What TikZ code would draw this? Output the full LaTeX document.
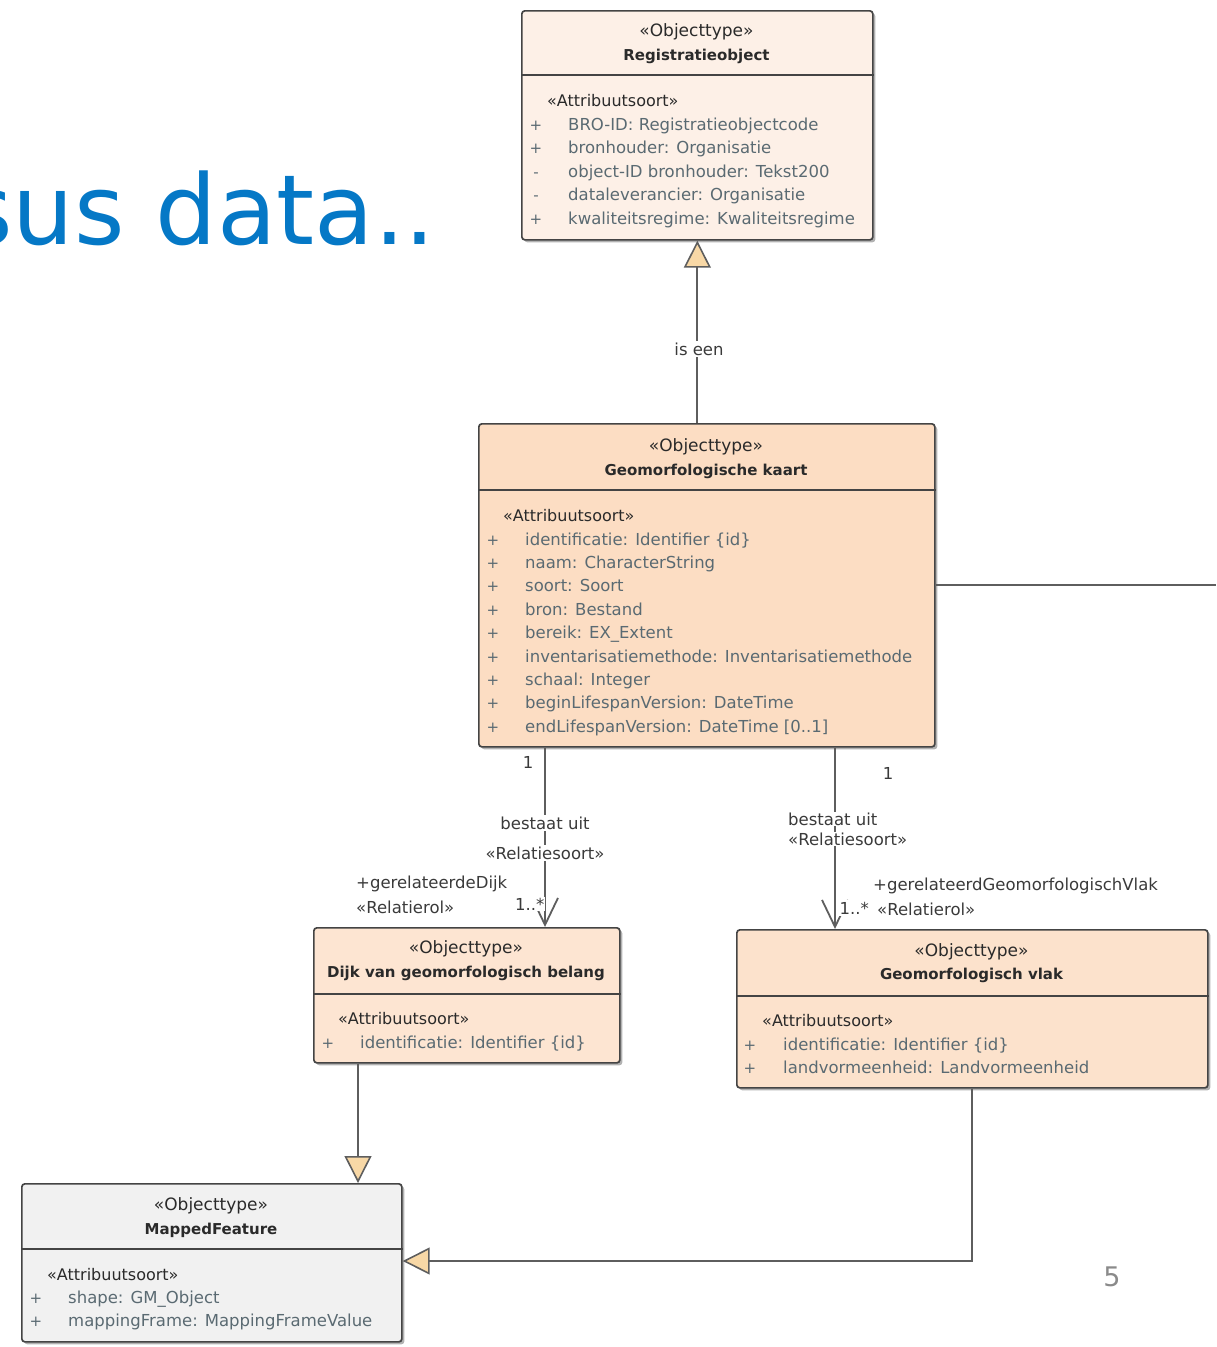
\documentclass[tikz,border=0pt]{standalone}
\usepackage{fontspec}
\setmainfont{DejaVu Sans}
\usetikzlibrary{arrows.meta,shadows,calc}
\definecolor{titleblue}{HTML}{0578C6}
\definecolor{boxline}{HTML}{444444}
\definecolor{conncol}{HTML}{5E5E5E}
\definecolor{attrcol}{HTML}{5A6A72}
\definecolor{headcol}{HTML}{2A2A2A}
\definecolor{lblcol}{HTML}{3A3A3A}
\definecolor{genfill}{HTML}{F8D8A6}
\definecolor{regfill}{HTML}{FDF0E7}
\definecolor{kaartfill}{HTML}{FCDDC3}
\definecolor{dijkfill}{HTML}{FDE5D2}
\definecolor{vlakfill}{HTML}{FCE2CC}
\definecolor{mffill}{HTML}{F1F1F1}
\definecolor{pagegray}{HTML}{8A8A8A}
\tikzset{
 umlbox/.style={draw=boxline, line width=1.7pt, rounded corners=3pt, inner sep=0pt, anchor=north west,
   drop shadow={shadow xshift=2.5pt, shadow yshift=-2.5pt, opacity=0.3, fill=black}},
 divline/.style={draw=boxline, line width=1.7pt},
 stereo/.style={inner sep=0pt, anchor=base, text=headcol, font=\fontsize{17}{17}\selectfont},
 cname/.style={inner sep=0pt, anchor=base, text=headcol, font=\bfseries\fontsize{15}{15}\selectfont},
 attrhead/.style={inner sep=0pt, anchor=base west, text=headcol, font=\fontsize{16}{16}\selectfont},
 attrsign/.style={inner sep=0pt, anchor=base, text=attrcol, font=\fontsize{15}{16}\selectfont},
 attrtext/.style={inner sep=0pt, anchor=base west, text=attrcol, font=\fontsize{16.5}{17}\selectfont},
 conn/.style={draw=conncol, line width=2.2pt},
 gen/.style={-{Triangle[width=27pt,length=27pt,fill=genfill,line width=1.6pt]}},
 assoc/.style={-{Straight Barb[width=26pt,length=27pt,line width=1.8pt]}},
 lbl/.style={inner sep=2pt, text=lblcol, font=\fontsize{16.5}{16.5}\selectfont},
 lblw/.style={lbl, fill=white},
}
\newcommand\attrlist[6]{% prefix, signx, textx, baseline1, step, list
  \foreach \sg/\tx [count=\i] in {#6}{%
    \node[attrsign] (#1p\i) at (#2,{#4+#5*(\i-1)}) {\sg};
    \node[attrtext] (#1a\i) at (#3,{#4+#5*(\i-1)}) {\tx};
  }}
\begin{document}
\begin{tikzpicture}[x=1pt,y=-1pt]
\useasboundingbox (0,0) rectangle (1216,1347);
\clip (0,0) rectangle (1216,1347);

% title fragment (cut off at the left edge, as in the reference)
\node[inner sep=0pt, anchor=base east, text=titleblue, font=\fontsize{97}{97}\selectfont] (title) at (436,244) {sus data..};

% ---------- Registratieobject
\node[umlbox, fill=regfill, minimum width=351pt, minimum height=229pt] (reg) at (521,10) {};
\draw[divline] (reg.west |- 0,75) -- (reg.east |- 0,75);
\node[stereo] (reg-s) at (696.5,36) {«Objecttype»};
\node[cname] (reg-n) at (696.5,60) {Registratieobject};
\node[attrhead] (reg-h) at (547,106) {«Attribuutsoort»};
\attrlist{reg}{536}{568}{130}{23.5}{+/BRO-ID: Registratieobjectcode, +/bronhouder: Organisatie, -/object-ID bronhouder: Tekst200, -/dataleverancier: Organisatie, +/kwaliteitsregime: Kwaliteitsregime}

% ---------- Geomorfologische kaart
\node[umlbox, fill=kaartfill, minimum width=456pt, minimum height=323pt] (kaart) at (478,423) {};
\draw[divline] (kaart.west |- 0,490) -- (kaart.east |- 0,490);
\node[stereo] (kaart-s) at (706,451) {«Objecttype»};
\node[cname] (kaart-n) at (706,475) {Geomorfologische kaart};
\node[attrhead] (kaart-h) at (503,521) {«Attribuutsoort»};
\attrlist{kaart}{493}{525}{545}{23.4}{+/identificatie: Identifier \{id\}, +/naam: CharacterString, +/soort: Soort, +/bron: Bestand, +/bereik: EX\_Extent, +/inventarisatiemethode: Inventarisatiemethode, +/schaal: Integer, +/beginLifespanVersion: DateTime, +/endLifespanVersion: DateTime [0..1]}

% ---------- Dijk van geomorfologisch belang
\node[umlbox, fill=dijkfill, minimum width=306pt, minimum height=135pt] (dijk) at (313,927) {};
\draw[divline] (dijk.west |- 0,994) -- (dijk.east |- 0,994);
\node[stereo] (dijk-s) at (466,953) {«Objecttype»};
\node[cname] (dijk-n) at (466,977) {Dijk van geomorfologisch belang};
\node[attrhead] (dijk-h) at (338,1024) {«Attribuutsoort»};
\attrlist{dijk}{328}{360}{1048}{23.4}{+/identificatie: Identifier \{id\}}

% ---------- Geomorfologisch vlak
\node[umlbox, fill=vlakfill, minimum width=471pt, minimum height=158pt] (vlak) at (736,929) {};
\draw[divline] (vlak.west |- 0,996) -- (vlak.east |- 0,996);
\node[stereo] (vlak-s) at (971.5,956) {«Objecttype»};
\node[cname] (vlak-n) at (971.5,979) {Geomorfologisch vlak};
\node[attrhead] (vlak-h) at (762,1026) {«Attribuutsoort»};
\attrlist{vlak}{750}{783}{1050}{23.4}{+/identificatie: Identifier \{id\}, +/landvormeenheid: Landvormeenheid}

% ---------- MappedFeature
\node[umlbox, fill=mffill, minimum width=380pt, minimum height=158pt] (mf) at (21,1183) {};
\draw[divline] (mf.west |- 0,1249) -- (mf.east |- 0,1249);
\node[stereo] (mf-s) at (211,1210) {«Objecttype»};
\node[cname] (mf-n) at (211,1234) {MappedFeature};
\node[attrhead] (mf-h) at (47,1280) {«Attribuutsoort»};
\attrlist{mf}{36}{68}{1303}{23.4}{+/shape: GM\_Object, +/mappingFrame: MappingFrameValue}

% ---------- connectors
% generalisation kaart -> Registratieobject
\draw[conn, gen] (kaart.north -| reg.south) -- (reg.south);
\node[lblw] (isen) at (699,349) {is een};

% line to the right edge
\coordinate (edge) at (1216,585);
\draw[conn] (kaart.east |- edge) -- (edge);

% association kaart -> Dijk
\draw[conn, assoc] ($(kaart.south west)+(67,0)$) -- ($(dijk.north west)+(232,0)$);
\node[lbl] (l1a) at (528,762) {1};
\node[lblw] (l1b) at (545,823) {bestaat uit};
\node[lblw] (l1c) at (545,853) {«Relatiesoort»};
\node[lbl, anchor=west, inner sep=0pt] (l1d) at (356,884) {+gerelateerdeDijk};
\node[lbl, anchor=west, inner sep=0pt] (l1e) at (356,907) {«Relatierol»};
\node[lblw, anchor=west, inner sep=1pt] (l1f) at (514,904) {1..*};

% association kaart -> vlak
\draw[conn, assoc] ($(kaart.south west)+(357,0)$) -- ($(vlak.north west)+(99,0)$);
\node[lbl] (l2a) at (888,773) {1};
\node[lblw, anchor=west, inner sep=1pt] (l2b) at (787,819) {bestaat uit};
\node[lblw, anchor=west, inner sep=1pt] (l2c) at (787,839) {«Relatiesoort»};
\node[lbl, anchor=west, inner sep=0pt] (l2d) at (873,886) {+gerelateerdGeomorfologischVlak};
\node[lblw, anchor=west, inner sep=1.5pt] (l2e) at (838,908) {1..*};
\node[lbl, anchor=west, inner sep=0pt] (l2f) at (877,909) {«Relatierol»};

% generalisations to MappedFeature
\draw[conn, gen] ($(dijk.south west)+(45,0)$) -- ($(mf.north west)+(337,0)$);
\draw[conn, gen] ($(vlak.south west)+(236,0)$) |- ($(mf.north east)+(0,78)$);

% page number
\node[inner sep=0pt, text=pagegray, font=\fontsize{27}{27}\selectfont] (page) at (1112,1277) {5};
\end{tikzpicture}
\end{document}
